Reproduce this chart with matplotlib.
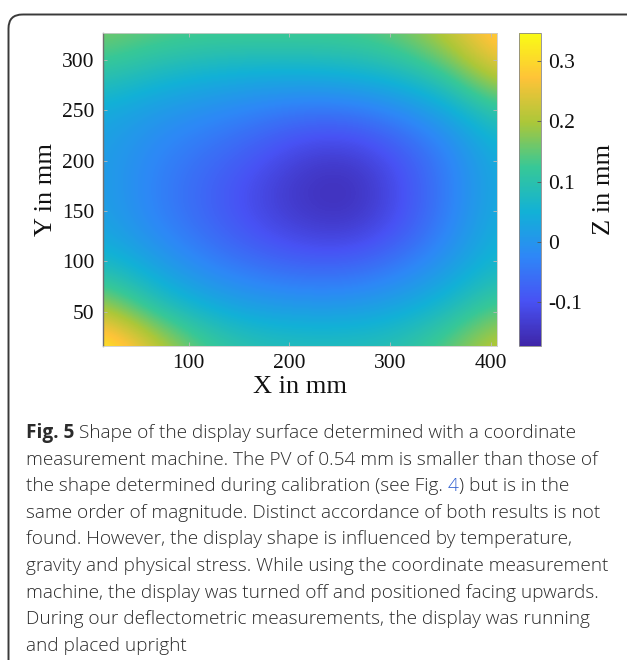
import matplotlib
matplotlib.use('Agg')
import matplotlib.pyplot as plt
import numpy as np
from matplotlib.colors import LinearSegmentedColormap
from matplotlib.patches import FancyBboxPatch

# ── data (surface heights in mm) ──
x_mm = [15, 64, 113, 162, 211, 259, 308, 357, 406]
y_mm = [16, 55, 94, 133, 172, 211, 249, 288, 327]
z_mm = [  # rows from y=16 (bottom) to y=327 (top), columns x=15..406
    [0.35, 0.24, 0.14, 0.10, 0.09, 0.09, 0.10, 0.15, 0.23],
    [0.20, 0.10, 0.05, 0.02, 0.01, 0.01, 0.03, 0.07, 0.14],
    [0.08, 0.03, -0.02, -0.05, -0.07, -0.07, -0.04, 0.01, 0.07],
    [0.03, -0.02, -0.06, -0.10, -0.13, -0.14, -0.10, -0.03, 0.05],
    [0.02, -0.03, -0.07, -0.11, -0.15, -0.165, -0.11, -0.04, 0.04],
    [0.02, -0.02, -0.05, -0.08, -0.12, -0.13, -0.09, -0.03, 0.05],
    [0.04, 0.01, -0.01, -0.03, -0.05, -0.05, -0.02, 0.03, 0.11],
    [0.11, 0.08, 0.06, 0.05, 0.05, 0.06, 0.08, 0.13, 0.24],
    [0.17, 0.15, 0.14, 0.14, 0.14, 0.14, 0.16, 0.22, 0.31],
]
z_lim = (-0.172, 0.346)
x_ticks = [100, 200, 300, 400]
y_ticks = [50, 100, 150, 200, 250, 300]
cb_ticks = [-0.1, 0, 0.1, 0.2, 0.3]
cb_ticklabels = ['-0.1', '0', '0.1', '0.2', '0.3']

caption = [
    'measurement machine. The PV of 0.54 mm is smaller than those of',
    None,
    'same order of magnitude. Distinct accordance of both results is not',
    'found. However, the display shape is influenced by temperature,',
    'gravity and physical stress. While using the coordinate measurement',
    'machine, the display was turned off and positioned facing upwards.',
    'During our deflectometric measurements, the display was running',
    'and placed upright',
]

# parula-like colormap
PARULA = ['#3e26a8', '#4852f4', '#2e87f7', '#12b1d6', '#37c897',
          '#abc739', '#fec338', '#f9fb15']
cmap = LinearSegmentedColormap.from_list('parula', PARULA, N=256)

SERIF = ['Liberation Serif', 'DejaVu Serif']
SANS = ['Open Sans', 'DejaVu Sans']
TXT = '#2b2b2b'

W, H = 627, 660
fig = plt.figure(figsize=(W / 100, H / 100), dpi=100)

# rounded frame around the figure block
bg = fig.add_axes([0, 0, 1, 1], zorder=-5)
bg.set_xlim(0, W); bg.set_ylim(H, 0); bg.axis('off')
bg.add_patch(FancyBboxPatch((8.5, 14.5), 700, 800,
                            boxstyle='round,pad=0,rounding_size=14',
                            fc='none', ec='#3a3a3a', lw=1.4))

def fx(px):
    return px / W

def fy(py):
    return 1 - py / H

ax = fig.add_axes([fx(103), fy(346), fx(497) - fx(103), fy(33) - fy(346)])
z = np.array(z_mm)
dx = (x_mm[-1] - x_mm[0]) / (len(x_mm) - 1)
dy = (y_mm[-1] - y_mm[0]) / (len(y_mm) - 1)
im = ax.imshow(z, origin='lower', cmap=cmap, vmin=z_lim[0], vmax=z_lim[1],
               interpolation='bicubic', aspect='auto',
               extent=[x_mm[0] - dx / 2, x_mm[-1] + dx / 2,
                       y_mm[0] - dy / 2, y_mm[-1] + dy / 2])
ax.set_xlim(x_mm[0], x_mm[-1])
ax.set_ylim(y_mm[0], y_mm[-1])
ax.set_xticks(x_ticks)
ax.set_yticks(y_ticks)
ax.tick_params(direction='in', length=3, width=0.6, color='#bbbbbb',
               labelsize=15.5, pad=6, top=True, right=True)
for lab in ax.get_xticklabels() + ax.get_yticklabels():
    lab.set_family(SERIF); lab.set_color('#111111')
for s in ax.spines.values():
    s.set_color('#cccccc'); s.set_linewidth(0.6)
ax.spines['left'].set_color('#707070')
ax.spines['left'].set_linewidth(1.0)
ax.set_xlabel('X in mm', fontsize=19, family=SERIF, color='#111111', labelpad=2)
ax.set_ylabel('Y in mm', fontsize=19, family=SERIF, color='#111111', labelpad=4)

cax = fig.add_axes([fx(519), fy(346), fx(541) - fx(519), fy(33) - fy(346)])
cb = fig.colorbar(im, cax=cax, ticks=cb_ticks)
cb.ax.set_yticklabels(cb_ticklabels)
cb.outline.set_edgecolor('#888888'); cb.outline.set_linewidth(0.6)
cax.tick_params(direction='in', length=3, width=0.6, color='#555555',
                labelsize=15.5, pad=5)
for lab in cax.get_yticklabels():
    lab.set_family(SERIF); lab.set_color('#111111')
cb.set_label('Z in mm', fontsize=19, family=SERIF, color='#111111', labelpad=8)

# caption
CS = 13.7
x0 = fx(26)
line_y = [433 + 26.6 * i for i in range(9)]
r = fig.canvas.get_renderer()
kw = dict(fontsize=CS, family=SANS, weight=300, color=TXT, va='center')

t = fig.text(x0, fy(line_y[0]), 'Fig. 5', fontsize=CS, family=SANS,
             weight='bold', color=TXT, va='center')
bb = t.get_window_extent(renderer=r)
fig.text(bb.x1 / W, fy(line_y[0]),
         ' Shape of the display surface determined with a coordinate', **kw)

for i, line in enumerate(caption):
    yy = fy(line_y[i + 1])
    if line is None:
        t = fig.text(x0, yy, 'the shape determined during calibration (see Fig. ', **kw)
        bb = t.get_window_extent(renderer=r)
        t2 = fig.text(bb.x1 / W, yy, '4', **{**kw, 'color': '#2f5fd0'})
        bb2 = t2.get_window_extent(renderer=r)
        fig.text(bb2.x1 / W, yy, ') but is in the', **kw)
    else:
        fig.text(x0, yy, line, **kw)

fig.savefig('out.png', dpi=100)
